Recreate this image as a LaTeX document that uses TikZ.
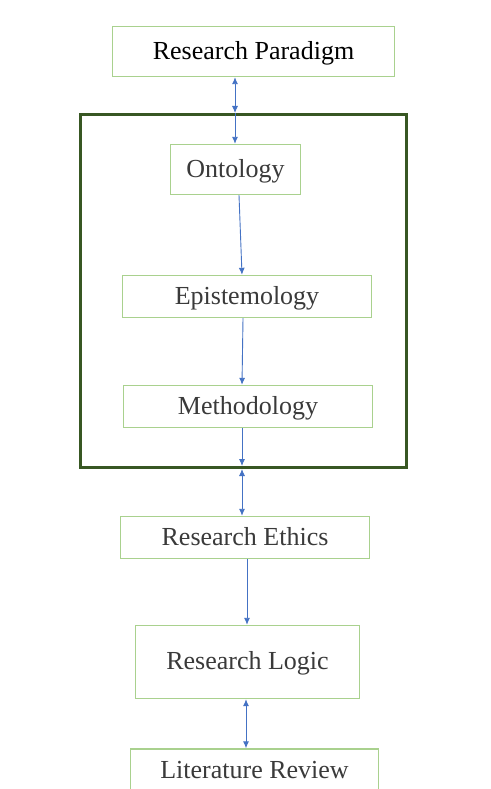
\documentclass[tikz,border=0pt]{standalone}
\usepackage{fontspec}
\setmainfont{Liberation Serif}
\usetikzlibrary{positioning,arrows.meta}
\definecolor{boxgreen}{HTML}{A9D18E}
\definecolor{framegreen}{HTML}{385723}
\definecolor{arrowblue}{HTML}{4472C4}
\definecolor{textgray}{HTML}{3A3A3A}

\begin{document}
\begin{tikzpicture}[x=1pt, y=-1pt,
    stage/.style={draw=boxgreen, line width=1.4pt, inner sep=0pt, text=textgray,
        font=\fontsize{26}{30}\selectfont, text height=20.5pt, text depth=5pt},
    link/.style={arrowblue, line width=0.9pt, -{Latex[length=7pt,width=6pt]}},
    twoway/.style={link, {Latex[length=7pt,width=6pt]}-{Latex[length=7pt,width=6pt]}}]
    \useasboundingbox (0,0) rectangle (490,789);
    \fill[white] (0,0) rectangle (490,789);
    \clip (0,0) rectangle (490,789);
			\node[stage, text=black, minimum width=282pt, minimum height=50pt] (paradigm) at (253.5,51.5) {Research Paradigm};
			\node[draw=framegreen, line width=3pt, minimum width=326pt, minimum height=353pt] (frame) at (243.5,291) {};
			\node[stage, minimum width=130pt, minimum height=50pt] (onto) at (235.5,169.5) {Ontology};
			\node[stage, minimum width=249pt, minimum height=42pt] (episte) at (247,296.5) {Epistemology};
			\node[stage, minimum width=249pt, minimum height=42pt] (method) at (248,406.5) {Methodology};
			\node[stage, minimum width=249pt, minimum height=42pt] (ethics) at (245,537.5) {Research Ethics};
			\node[stage, minimum width=224pt, minimum height=73pt] (logic) at (247.5,662) {Research Logic};
			\node[stage, minimum width=248pt, minimum height=44pt] (litreview) at (254.5,771) {Literature Review};
			\draw[twoway] ([xshift=-18.5pt]paradigm.south) -- ([xshift=-8.5pt]frame.north);
			\draw[link] ([xshift=-8.5pt]frame.north) -- ([xshift=-0.5pt]onto.north);
			\draw[link] ([xshift=3.5pt]onto.south) -- ([xshift=-5pt]episte.north);
			\draw[link] ([xshift=-4pt]episte.south) -- ([xshift=-6pt]method.north);
			\draw[link] ([xshift=-6pt]method.south) -- ([xshift=-1.5pt,yshift=3pt]frame.south);
			\draw[twoway] ([xshift=-1.5pt]frame.south) -- ([xshift=-3pt]ethics.north);
			\draw[link] ([xshift=2pt]ethics.south) -- ([xshift=-0.5pt]logic.north);
			\draw[twoway] ([xshift=-1.5pt]logic.south) -- ([xshift=-8.5pt]litreview.north);
\end{tikzpicture}
\end{document}
